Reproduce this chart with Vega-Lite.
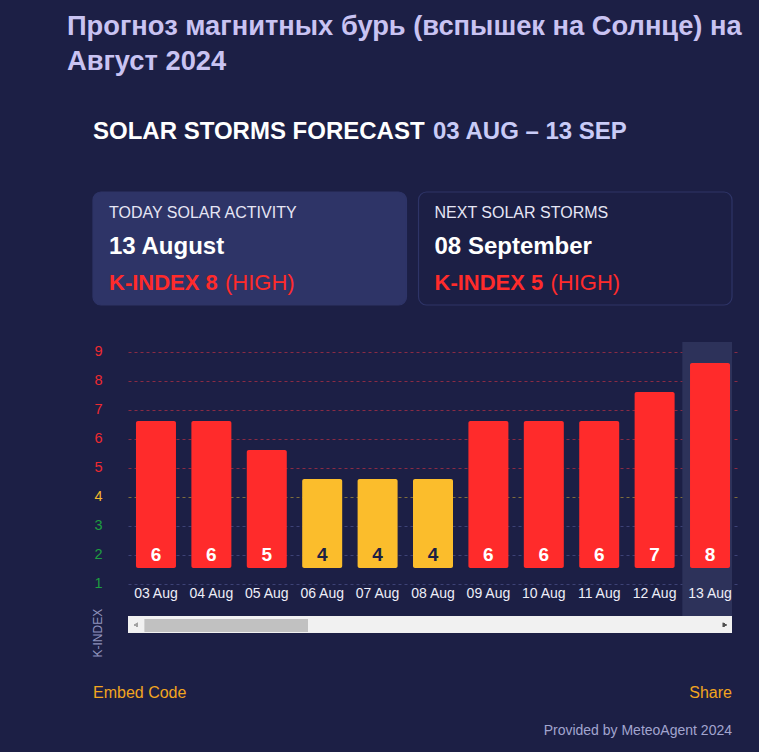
{
  "$schema": "https://vega.github.io/schema/vega-lite/v6.json",
  "background": "#1c1f45",
  "padding": {"left": 67, "top": 12, "right": 17, "bottom": 7},
  "config": {
    "font": "Liberation Sans",
    "view": {"stroke": null},
    "text": {"font": "Liberation Sans"},
    "axis": {"labelFont": "Liberation Sans", "titleFont": "Liberation Sans"}
  },
  "title": {
    "text": ["Прогноз магнитных бурь (вспышек на Солнце) на", "Август 2024"],
    "anchor": "start",
    "dx": -24,
    "fontSize": 27.3,
    "fontWeight": "bold",
    "color": "#c9c3f2",
    "lineHeight": 35,
    "offset": 17,
    "font": "Liberation Sans"
  },
  "datasets": {
    "header": [{"lead": "SOLAR STORMS FORECAST", "range": "03 AUG – 13 SEP"}],
    "cards": [
      {"card": "today", "label": "TODAY SOLAR ACTIVITY", "date": "13 August", "kindex": "K-INDEX 8", "level": "(HIGH)"},
      {"card": "next", "label": "NEXT SOLAR STORMS", "date": "08 September", "kindex": "K-INDEX 5", "level": "(HIGH)"}
    ],
    "kp": [
      {"day": "03 Aug", "k": 6},
      {"day": "04 Aug", "k": 6},
      {"day": "05 Aug", "k": 5},
      {"day": "06 Aug", "k": 4},
      {"day": "07 Aug", "k": 4},
      {"day": "08 Aug", "k": 4},
      {"day": "09 Aug", "k": 6},
      {"day": "10 Aug", "k": 6},
      {"day": "11 Aug", "k": 6},
      {"day": "12 Aug", "k": 7},
      {"day": "13 Aug", "k": 8}
    ],
    "footer": [{"embed": "Embed Code", "share": "Share", "credit": "Provided by MeteoAgent 2024"}]
  },
  "spacing": 20,
  "vconcat": [
    {
      "width": 604,
      "height": 79,
      "data": {"name": "header"},
      "layer": [
        {
          "mark": {"type": "text", "align": "left", "baseline": "middle", "fontSize": 24, "fontWeight": "bold", "color": "#ffffff", "dy": 0.5},
          "encoding": {
            "x": {"datum": 0, "type": "quantitative", "scale": {"domain": [0, 1], "range": [-35, 604]}, "axis": null},
            "text": {"field": "lead"}
          }
        },
        {
          "mark": {"type": "text", "align": "left", "baseline": "middle", "fontSize": 24, "fontWeight": "bold", "color": "#c9cbf7", "dx": 340, "dy": 0.5},
          "encoding": {
            "x": {"datum": 0, "type": "quantitative"},
            "text": {"field": "range"}
          }
        }
      ]
    },
    {
      "spacing": 36,
      "vconcat": [
        {
          "width": 604,
          "height": 113,
          "data": {"name": "cards"},
          "encoding": {
            "x": {"field": "card", "type": "nominal", "sort": null, "scale": {"domain": ["today", "next"], "range": [-35, 604], "paddingInner": 0.037, "paddingOuter": 0}, "axis": null, "bandPosition": 0}
          },
          "layer": [
            {
              "mark": {"type": "rect", "cornerRadius": 8, "strokeWidth": 1.2},
              "encoding": {
                "x": {"field": "card", "type": "nominal", "sort": null},
                "fill": {"condition": {"test": "datum.card === 'today'", "value": "#2e3467"}, "value": "#1c1f45"},
                "stroke": {"value": "#2e3467"}
              }
            },
            {
              "mark": {"type": "text", "align": "left", "baseline": "middle", "dx": 16, "fontSize": 16, "color": "#e6e6f5"},
              "encoding": {
                "y": {"datum": "label", "type": "ordinal", "scale": {"type": "point", "domain": ["label", "date", "kindex"], "padding": 0.59}, "axis": null},
                "text": {"field": "label"}
              }
            },
            {
              "mark": {"type": "text", "align": "left", "baseline": "middle", "dx": 16, "dy": -2, "fontSize": 24, "fontWeight": "bold", "color": "#ffffff"},
              "encoding": {
                "y": {"datum": "date", "type": "ordinal"},
                "text": {"field": "date"}
              }
            },
            {
              "mark": {"type": "text", "align": "left", "baseline": "middle", "dx": 16, "dy": -1, "fontSize": 22, "fontWeight": "bold", "color": "#ff2b2b"},
              "encoding": {
                "y": {"datum": "kindex", "type": "ordinal"},
                "text": {"field": "kindex"}
              }
            },
            {
              "mark": {"type": "text", "align": "left", "baseline": "middle", "dx": 132, "dy": -1, "fontSize": 22, "fontWeight": "normal", "color": "#ff2b2b"},
              "encoding": {
                "y": {"datum": "kindex", "type": "ordinal"},
                "text": {"field": "level"}
              }
            }
          ]
        },
        {
          "width": 604,
          "height": 291,
          "data": {"name": "kp"},
          "resolve": {"scale": {"x": "independent"}},
          "layer": [
            {
              "encoding": {
                "x": {"field": "day", "type": "nominal", "sort": null,
                  "scale": {"domain": ["03 Aug", "04 Aug", "05 Aug", "06 Aug", "07 Aug", "08 Aug", "09 Aug", "10 Aug", "11 Aug", "12 Aug", "13 Aug"], "range": [0, 610], "paddingInner": 0.278, "paddingOuter": 0.144},
                  "axis": {"orient": "bottom", "offset": -40, "labelPadding": 0, "labelBaseline": "middle", "ticks": false, "tickSize": 0, "domain": false, "labelColor": "#eeeef8", "labelFontSize": 14, "labelAngle": 0, "title": null, "grid": false}}
              },
              "layer": [
                {
                  "transform": [{"filter": "datum.day === '13 Aug'"}],
                  "mark": {"type": "rect", "color": "#2d325a", "clip": true, "width": {"band": 1.385}},
                  "encoding": {"y": {"datum": 8.724}, "y2": {"datum": -1.31}}
                },
                {
                  "mark": {"type": "bar", "cornerRadius": 2},
                  "encoding": {
                    "y": {"field": "k", "type": "quantitative",
                      "scale": {"domain": [-1.31, 8.724], "nice": false, "zero": false},
                      "axis": {
                        "values": [0.38, 1.38, 2.38, 3.38, 4.38, 5.38, 6.38, 7.38, 8.38],
                        "tickCount": 12,
                        "labelExpr": "round(datum.value + 0.62)",
                        "labelOverlap": false,
                        "title": "K-INDEX",
                        "titleAngle": 270,
                        "titleX": -31,
                        "titleY": 315,
                        "titleAlign": "left",
                        "titleBaseline": "middle",
                        "titleColor": "#9093bd",
                        "titleFontSize": 12,
                        "titleFontWeight": "normal",
                        "labelFontSize": 14.5,
                        "labelPadding": 26,
                        "labelBaseline": "middle",
                        "ticks": false,
                        "tickSize": 0,
                        "domain": false,
                        "grid": true,
                        "gridDash": [3, 3],
                        "gridColor": {"condition": [{"test": "datum.value > 4", "value": "#8a2b44"}, {"test": "datum.value > 3", "value": "#7f6e3c"}], "value": "#3d4276"},
                        "labelColor": {"condition": [{"test": "datum.value > 4", "value": "#ee2a30"}, {"test": "datum.value > 3", "value": "#f3b82c"}], "value": "#1e9e40"}
                      }
                    },
                    "y2": {"datum": 0.93},
                    "color": {"condition": {"test": "datum.k >= 5", "value": "#ff2b2b"}, "value": "#fbbd2c"}
                  }
                },
                {
                  "mark": {"type": "text", "baseline": "alphabetic", "dy": -7, "fontSize": 19, "fontWeight": "bold"},
                  "encoding": {
                    "y": {"datum": 0.93},
                    "text": {"field": "k"},
                    "color": {"condition": {"test": "datum.k >= 5", "value": "#ffffff"}, "value": "#1c1f45"}
                  }
                }
              ]
            },
            {
              "mark": {"type": "rect", "color": "#f1f1f1"},
              "encoding": {
                "x": {"datum": 0, "type": "quantitative", "scale": {"domain": [0, 1]}, "axis": null},
                "x2": {"datum": 1},
                "y": {"datum": -0.725},
                "y2": {"datum": -1.31}
              }
            },
            {
              "mark": {"type": "rect", "color": "#c1c1c1"},
              "encoding": {
                "x": {"datum": 0.028, "type": "quantitative", "scale": {"domain": [0, 1]}, "axis": null},
                "x2": {"datum": 0.298},
                "y": {"datum": -0.83},
                "y2": {"datum": -1.27}
              }
            },
            {
              "mark": {"type": "point", "shape": "triangle-left", "filled": true, "size": 18, "color": "#a3a3a3", "opacity": 1},
              "encoding": {
                "x": {"datum": 0.013, "type": "quantitative", "scale": {"domain": [0, 1]}, "axis": null},
                "y": {"datum": -1.03}
              }
            },
            {
              "mark": {"type": "point", "shape": "triangle-right", "filled": true, "size": 18, "color": "#505050", "opacity": 1},
              "encoding": {
                "x": {"datum": 0.988, "type": "quantitative", "scale": {"domain": [0, 1]}, "axis": null},
                "y": {"datum": -1.03}
              }
            }
          ]
        }
      ]
    },
    {
      "width": 604,
      "height": 68,
      "data": {"name": "footer"},
      "layer": [
        {
          "mark": {"type": "text", "align": "left", "baseline": "middle", "fontSize": 16, "dy": 1, "color": "#f2a51f"},
          "encoding": {
            "x": {"datum": 0, "type": "quantitative", "scale": {"domain": [0, 1], "range": [-35, 604]}, "axis": null},
            "y": {"datum": "links", "type": "ordinal", "scale": {"type": "point", "domain": ["links", "credit"], "padding": 0.395}, "axis": null},
            "text": {"field": "embed"}
          }
        },
        {
          "mark": {"type": "text", "align": "right", "baseline": "middle", "fontSize": 16, "dy": 1, "color": "#f2a51f"},
          "encoding": {
            "x": {"datum": 1, "type": "quantitative"},
            "y": {"datum": "links", "type": "ordinal"},
            "text": {"field": "share"}
          }
        },
        {
          "mark": {"type": "text", "align": "right", "baseline": "middle", "fontSize": 14, "dy": 1, "color": "#a2a5cf"},
          "encoding": {
            "x": {"datum": 1, "type": "quantitative"},
            "y": {"datum": "credit", "type": "ordinal"},
            "text": {"field": "credit"}
          }
        }
      ]
    }
  ]
}
